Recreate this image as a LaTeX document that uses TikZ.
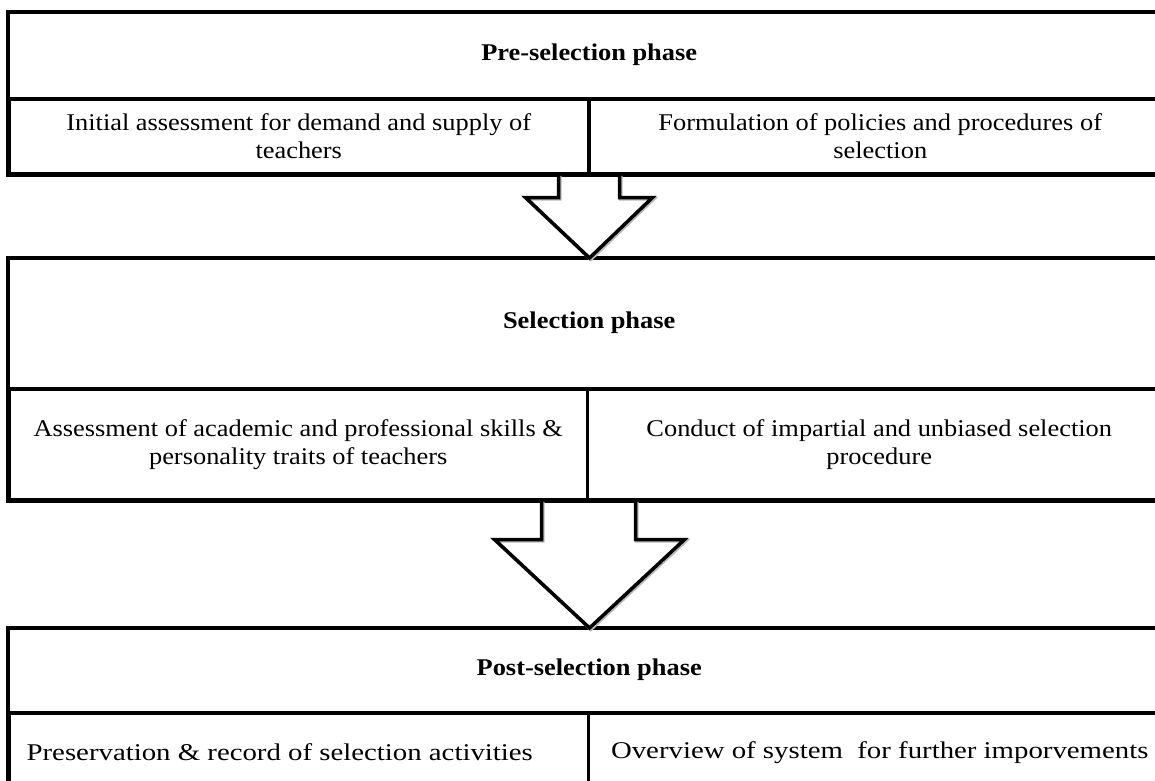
\documentclass[tikz,border=0pt]{standalone}
\usepackage{fontspec}
\setmainfont{Liberation Serif}[FakeStretch=1.1]
\newfontfamily\widefont{Liberation Serif}[FakeStretch=1.2]
\usetikzlibrary{calc}
\begin{document}
\begin{tikzpicture}[x=1pt,y=-1pt,
  hdr/.style={anchor=north west, inner sep=0pt, minimum width=1162pt,
    font=\fontsize{24}{28}\selectfont\bfseries},
  cell/.style={draw, line width=2.5pt, anchor=north west, inner sep=0pt,
    align=center, font=\fontsize{24}{28}\selectfont},
  widecell/.style={cell, font=\widefont\fontsize{24}{28}\selectfont},
  frame/.style={draw, line width=4pt},
  bigarrow/.style={draw, line width=3.5pt, line join=miter, miter limit=10,
    preaction={draw=gray!55, line width=3.5pt, transform canvas={shift={(1.3pt,-1.3pt)}}}}
]
\useasboundingbox (0,0) rectangle (1155,780);
\clip (0,0) rectangle (1155,780);

% ---------- Pre-selection ----------
\node[hdr, minimum height=86pt] (pre) at (8,12) {Pre-selection phase};
\node[cell, minimum width=579pt, minimum height=74pt] (preL) at (8,98)
  {Initial assessment for demand and supply of\\teachers};
\node[cell, minimum width=582pt, minimum height=74pt] (preR) at (588,98)
  {Formulation of policies and procedures of\\selection};
\draw[frame] (pre.north west) rectangle (preR.south east);
\draw[line width=3pt] (pre.south west) -- (pre.south east);

% ---------- Selection ----------
\node[hdr, minimum height=130pt] (sel) at (8,258) {Selection phase};
\node[cell, minimum width=578pt, minimum height=110pt] (selL) at (8,388)
  {Assessment of academic and professional skills \&\\personality traits of teachers};
\node[cell, minimum width=584pt, minimum height=110pt] (selR) at (586,388)
  {Conduct of impartial and unbiased selection\\procedure};
\draw[frame] (sel.north west) rectangle (selR.south east);
\draw[line width=3pt] (sel.south west) -- (sel.south east);

% ---------- Post-selection ----------
\node[hdr, minimum height=84pt] (post) at (8,628) {Post-selection phase};
\node[widecell, minimum width=579pt, minimum height=78pt] (postL) at (8,712)
  {\hspace*{-38pt}Preservation \& record of selection activities};
\node[widecell, minimum width=583pt, minimum height=78pt] (postR) at (587,712)
  {Overview of system\ \ for further imporvements};
\draw[frame] (post.north west) rectangle (postR.south east);
\draw[line width=3pt] (post.south west) -- (post.south east);

% ---------- Arrows ----------
\coordinate (t1) at (preL.south east |- sel.north);
\draw[bigarrow] ($(preL.south east)+(-31,0)$) -- ($(preL.south east)+(-31,23)$)
  -- ($(preL.south east)+(-64,23)$) -- (t1)
  -- ($(preL.south east)+(63,23)$) -- ($(preL.south east)+(30,23)$)
  -- ($(preL.south east)+(30,0)$);

\coordinate (s2) at ($(selL.south east)+(1,0)$);
\coordinate (t2) at (s2 |- post.north);
\draw[bigarrow] ($(s2)+(-48,0)$) -- ($(s2)+(-48,39)$)
  -- ($(s2)+(-95,39)$) -- (t2)
  -- ($(s2)+(95,39)$) -- ($(s2)+(46,39)$)
  -- ($(s2)+(46,0)$);
\end{tikzpicture}
\end{document}
